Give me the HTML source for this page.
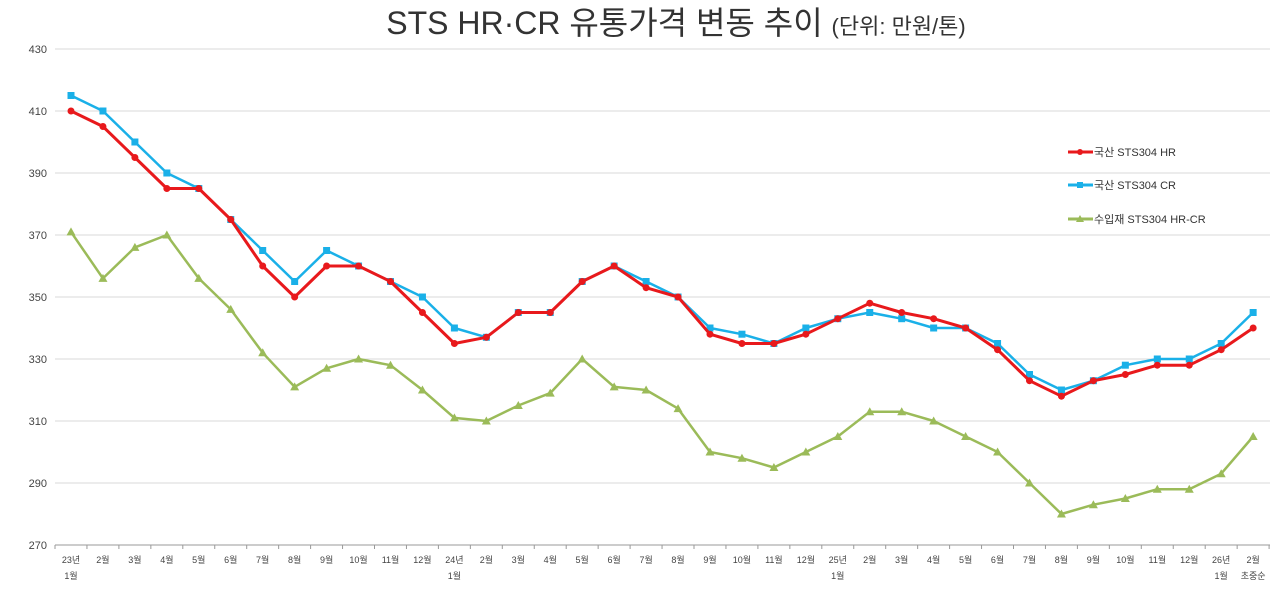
<!DOCTYPE html>
<html><head><meta charset="utf-8"><style>
body{margin:0;background:#fff;width:1280px;height:596px;overflow:hidden;font-family:"Liberation Sans","Noto Sans CJK KR",sans-serif}
</style></head><body>
<svg id="c" width="1280" height="596" xmlns="http://www.w3.org/2000/svg" font-family="Liberation Sans, Noto Sans CJK KR, sans-serif">
<text x="676" y="34" text-anchor="middle" font-size="32" fill="#333">STS HR·CR 유통가격 변동 추이 <tspan font-size="22">(단위: 만원/톤)</tspan></text>
</svg>
<script>
const s=document.getElementById('c'),NS='http://www.w3.org/2000/svg';
function el(t,a,txt){const e=document.createElementNS(NS,t);for(const k in a)e.setAttribute(k,a[k]);if(txt!=null)e.textContent=txt;s.appendChild(e);return e;}
const Y=v=>49+(430-v)*3.1, X=i=>71+i*31.95;
for(let v=270;v<=430;v+=20){el('line',{x1:55,x2:1270,y1:Y(v),y2:Y(v),stroke:v==270?'#999':'#d9d9d9','stroke-width':1});
el('text',{x:47,y:Y(v)+4,'text-anchor':'end','font-size':11,fill:'#444'},v);}
const lab=['23년','2월','3월','4월','5월','6월','7월','8월','9월','10월','11월','12월','24년','2월','3월','4월','5월','6월','7월','8월','9월','10월','11월','12월','25년','2월','3월','4월','5월','6월','7월','8월','9월','10월','11월','12월','26년','2월'];
for(let i=0;i<=38;i++){const x=55+i*31.95;el('line',{x1:x,x2:x,y1:545,y2:549,stroke:'#999'});}
lab.forEach((l,i)=>{el('text',{x:X(i),y:563,'text-anchor':'middle','font-size':9,fill:'#444'},l);});
[[0,'1월'],[12,'1월'],[24,'1월'],[36,'1월'],[37,'초중순']].forEach(([i,t])=>el('text',{x:X(i),y:579,'text-anchor':'middle','font-size':9,fill:'#444'},t));
const HR=[410,405,395,385,385,375,360,350,360,360,355,345,335,337,345,345,355,360,353,350,338,335,335,338,343,348,345,343,340,333,323,318,323,325,328,328,333,340];
const CR=[415,410,400,390,385,375,365,355,365,360,355,350,340,337,345,345,355,360,355,350,340,338,335,340,343,345,343,340,340,335,325,320,323,328,330,330,335,345];
const IM=[371,356,366,370,356,346,332,321,327,330,328,320,311,310,315,319,330,321,320,314,300,298,295,300,305,313,313,310,305,300,290,280,283,285,288,288,293,305];
function series(d,c,w,m){el('polyline',{points:d.map((v,i)=>X(i)+','+Y(v)).join(' '),fill:'none',stroke:c,'stroke-width':w,'stroke-linejoin':'round'});
d.forEach((v,i)=>{const x=X(i),y=Y(v);if(m=='c')el('circle',{cx:x,cy:y,r:3.5,fill:c});else if(m=='s')el('rect',{x:x-3.5,y:y-3.5,width:7,height:7,fill:c});else el('polygon',{points:`${x},${y-4.5} ${x+4.5},${y+3.5} ${x-4.5},${y+3.5}`,fill:c});});}
series(IM,'#9bbb59',2.5,'t');series(CR,'#1ab0e8',2.5,'s');series(HR,'#e8191c',3,'c');
[[152,'#e8191c','c','국산 STS304 HR'],[185,'#1ab0e8','s','국산 STS304 CR'],[219,'#9bbb59','t','수입재 STS304 HR-CR']].forEach(([y,c,m,t])=>{
el('line',{x1:1068,x2:1093,y1:y,y2:y,stroke:c,'stroke-width':3});const x=1080;
if(m=='c')el('circle',{cx:x,cy:y,r:3,fill:c});else if(m=='s')el('rect',{x:x-3,y:y-3,width:6,height:6,fill:c});else el('polygon',{points:`${x},${y-4} ${x+4},${y+3} ${x-4},${y+3}`,fill:c});
el('text',{x:1094,y:y+4,'font-size':11,fill:'#333'},t);});
</script>
</body></html>
